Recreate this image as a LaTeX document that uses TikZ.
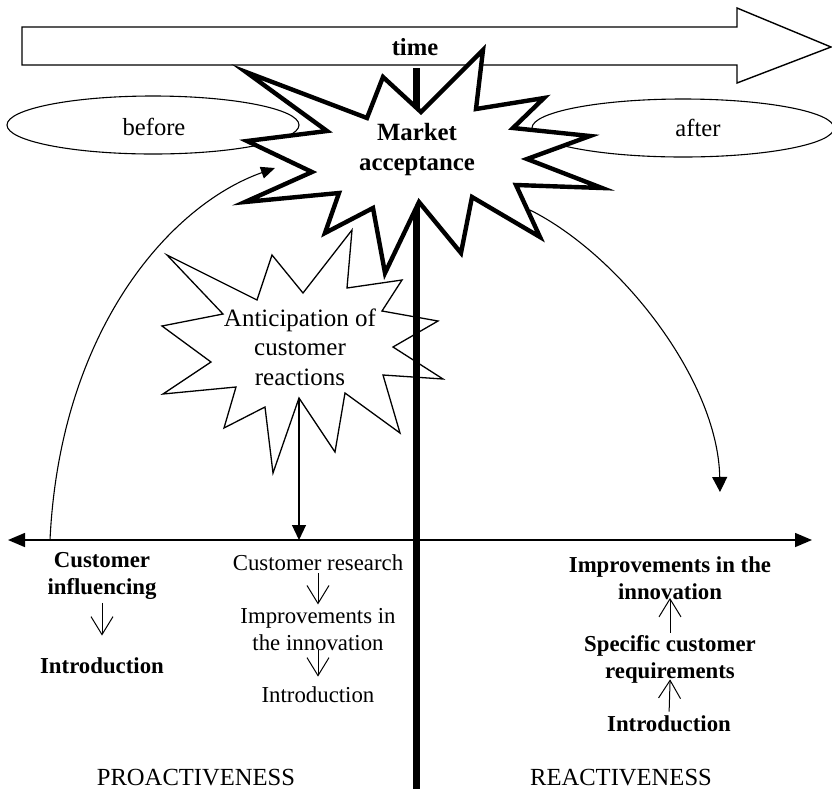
\documentclass[tikz,border=0pt]{standalone}
\usepackage{fontspec}
\setmainfont{Liberation Serif}
\usetikzlibrary{arrows.meta}
\begin{document}
\begin{tikzpicture}[x=0.5pt,y=-0.5pt,
  lbl/.style={inner sep=0pt, align=center, font=\fontsize{11.4}{13.5}\selectfont},
  lblb/.style={inner sep=0pt, align=center, font=\fontsize{11.4}{13.5}\selectfont\bfseries},
  big/.style={inner sep=0pt, align=center, font=\fontsize{12.3}{15}\selectfont},
  bigb/.style={inner sep=0pt, align=center, font=\fontsize{12.3}{15}\selectfont\bfseries},
  thinline/.style={line width=0.55pt},
  solidtip/.style={-{Triangle[length=7.5pt,width=7pt]}},
  vtip/.style={-{Straight Barb[length=9pt,width=11pt]}, line width=0.5pt},
]
\useasboundingbox (0,0) rectangle (832,789);

% time arrow
\draw[line width=0.7pt, fill=white] (22,27) -- (737,27) -- (737,8) -- (831,47)
  -- (737,83) -- (737,65) -- (22,65) -- cycle;
\node[bigb] (time) at (415,47) {time};

% before / after ellipses
\draw[thinline] (153,125) ellipse [x radius=146, y radius=29];
\draw[thinline] (683,128) ellipse [x radius=151, y radius=29];
\node[big] (before) at (154,127) {before};
\node[big] (after) at (698,128) {after};

% named ends of the connectors
\coordinate (lcstart) at (50,540);
\coordinate (lcend) at (275,168);
\coordinate (rcstart) at (530,210);
\coordinate (rcend) at (720,492);
\coordinate (acbot) at (299,398);
\coordinate (achit) at (299,540);
\coordinate (axL) at (8,540);
\coordinate (axR) at (812,540);
\coordinate (vtop) at (416,68);
\coordinate (vbot) at (416,789);

% curved arrow towards market acceptance
\draw[thinline, -{Triangle[length=7pt,width=6pt]}] (lcstart) .. controls (60,330) and (170,205) .. (lcend);

% anticipation star
\draw[line width=0.65pt, fill=white]
  (352,230) -- (347,288) -- (402,280) -- (382,311) -- (438,321) -- (393,347)
  -- (443,379) -- (383,375) -- (400,433) -- (345,393) -- (335,452) -- (299,398)
  -- (273,473) -- (265,407) -- (224,428) -- (236,387) -- (163,394) -- (211,362)
  -- (162,326) -- (223,314) -- (167,255) -- (257,300) -- (272,255) -- (303,293)
  -- cycle;
\node[inner sep=0pt, align=center, font=\fontsize{12.5}{14.8}\selectfont] (antic) at (300,347)
  {Anticipation of\\customer\\reactions};

% thick divider
\draw[line width=3.5pt] (vtop) -- (vbot);

% market acceptance star
\draw[line width=2.2pt, fill=white, line join=miter]
  (483,50) -- (476,109) -- (544,98) -- (513,128) -- (590,136) -- (527,159)
  -- (602,188) -- (516,185) -- (540,237) -- (472,197) -- (461,253) -- (419,202)
  -- (385,273) -- (373,208) -- (325,233) -- (339,193) -- (245,202) -- (312,172)
  -- (247,141) -- (327,131) -- (246,72) -- (367,118) -- (383,77) -- (421,112)
  -- cycle;
\node[inner sep=0pt, align=center, font=\fontsize{12.4}{15}\selectfont\bfseries] (ma) at (417,150)
  {Market\\acceptance};

% curved arrow away from market acceptance
\draw[thinline, -{Triangle[length=7.5pt,width=7.5pt]}] (rcstart) .. controls (620,255) and (718,380) .. (rcend);

% horizontal axis
\draw[line width=0.75pt, {Triangle[length=8.5pt,width=7pt]}-{Triangle[length=8.5pt,width=7pt]}] (axL) -- (axR);

% arrow from anticipation to the axis
\draw[thinline, solidtip] (acbot) -- (achit);

% proactive: customer influencing
\node[lblb] (ci) at (102,576) {Customer\\influencing};
\node[lblb] (intro1) at (102,666) {Introduction};
\draw[vtip, shorten <=1.5pt, shorten >=11pt] (ci.south) -- (intro1.north);

% proactive: customer research
\node[lbl] (cr) at (318,563) {Customer research};
\node[lbl] (imp) at (318,630) {Improvements in\\the innovation};
\node[lbl] (intro2) at (318,695) {Introduction};
\draw[vtip, shorten <=1pt, shorten >=2pt] (cr.south) -- (imp.north);
\draw[vtip, shorten <=-1pt, shorten >=5pt] (imp.south) -- (intro2.north);

% reactive
\node[lblb] (rimp) at (670,578) {Improvements in the\\innovation};
\node[lblb] (scr) at (670,659) {Specific customer\\requirements};
\node[lblb] (intro3) at (669,724) {Introduction};
\draw[vtip, shorten <=1pt, shorten >=-1pt] (scr.north) -- (rimp.south);
\draw[vtip, shorten <=2pt, shorten >=-2pt] (intro3.north) -- (scr.south);

% bottom captions
\node[big] (pro) at (196,778) {PROACTIVENESS};
\node[big] (rea) at (621,778) {REACTIVENESS};
\end{tikzpicture}
\end{document}
